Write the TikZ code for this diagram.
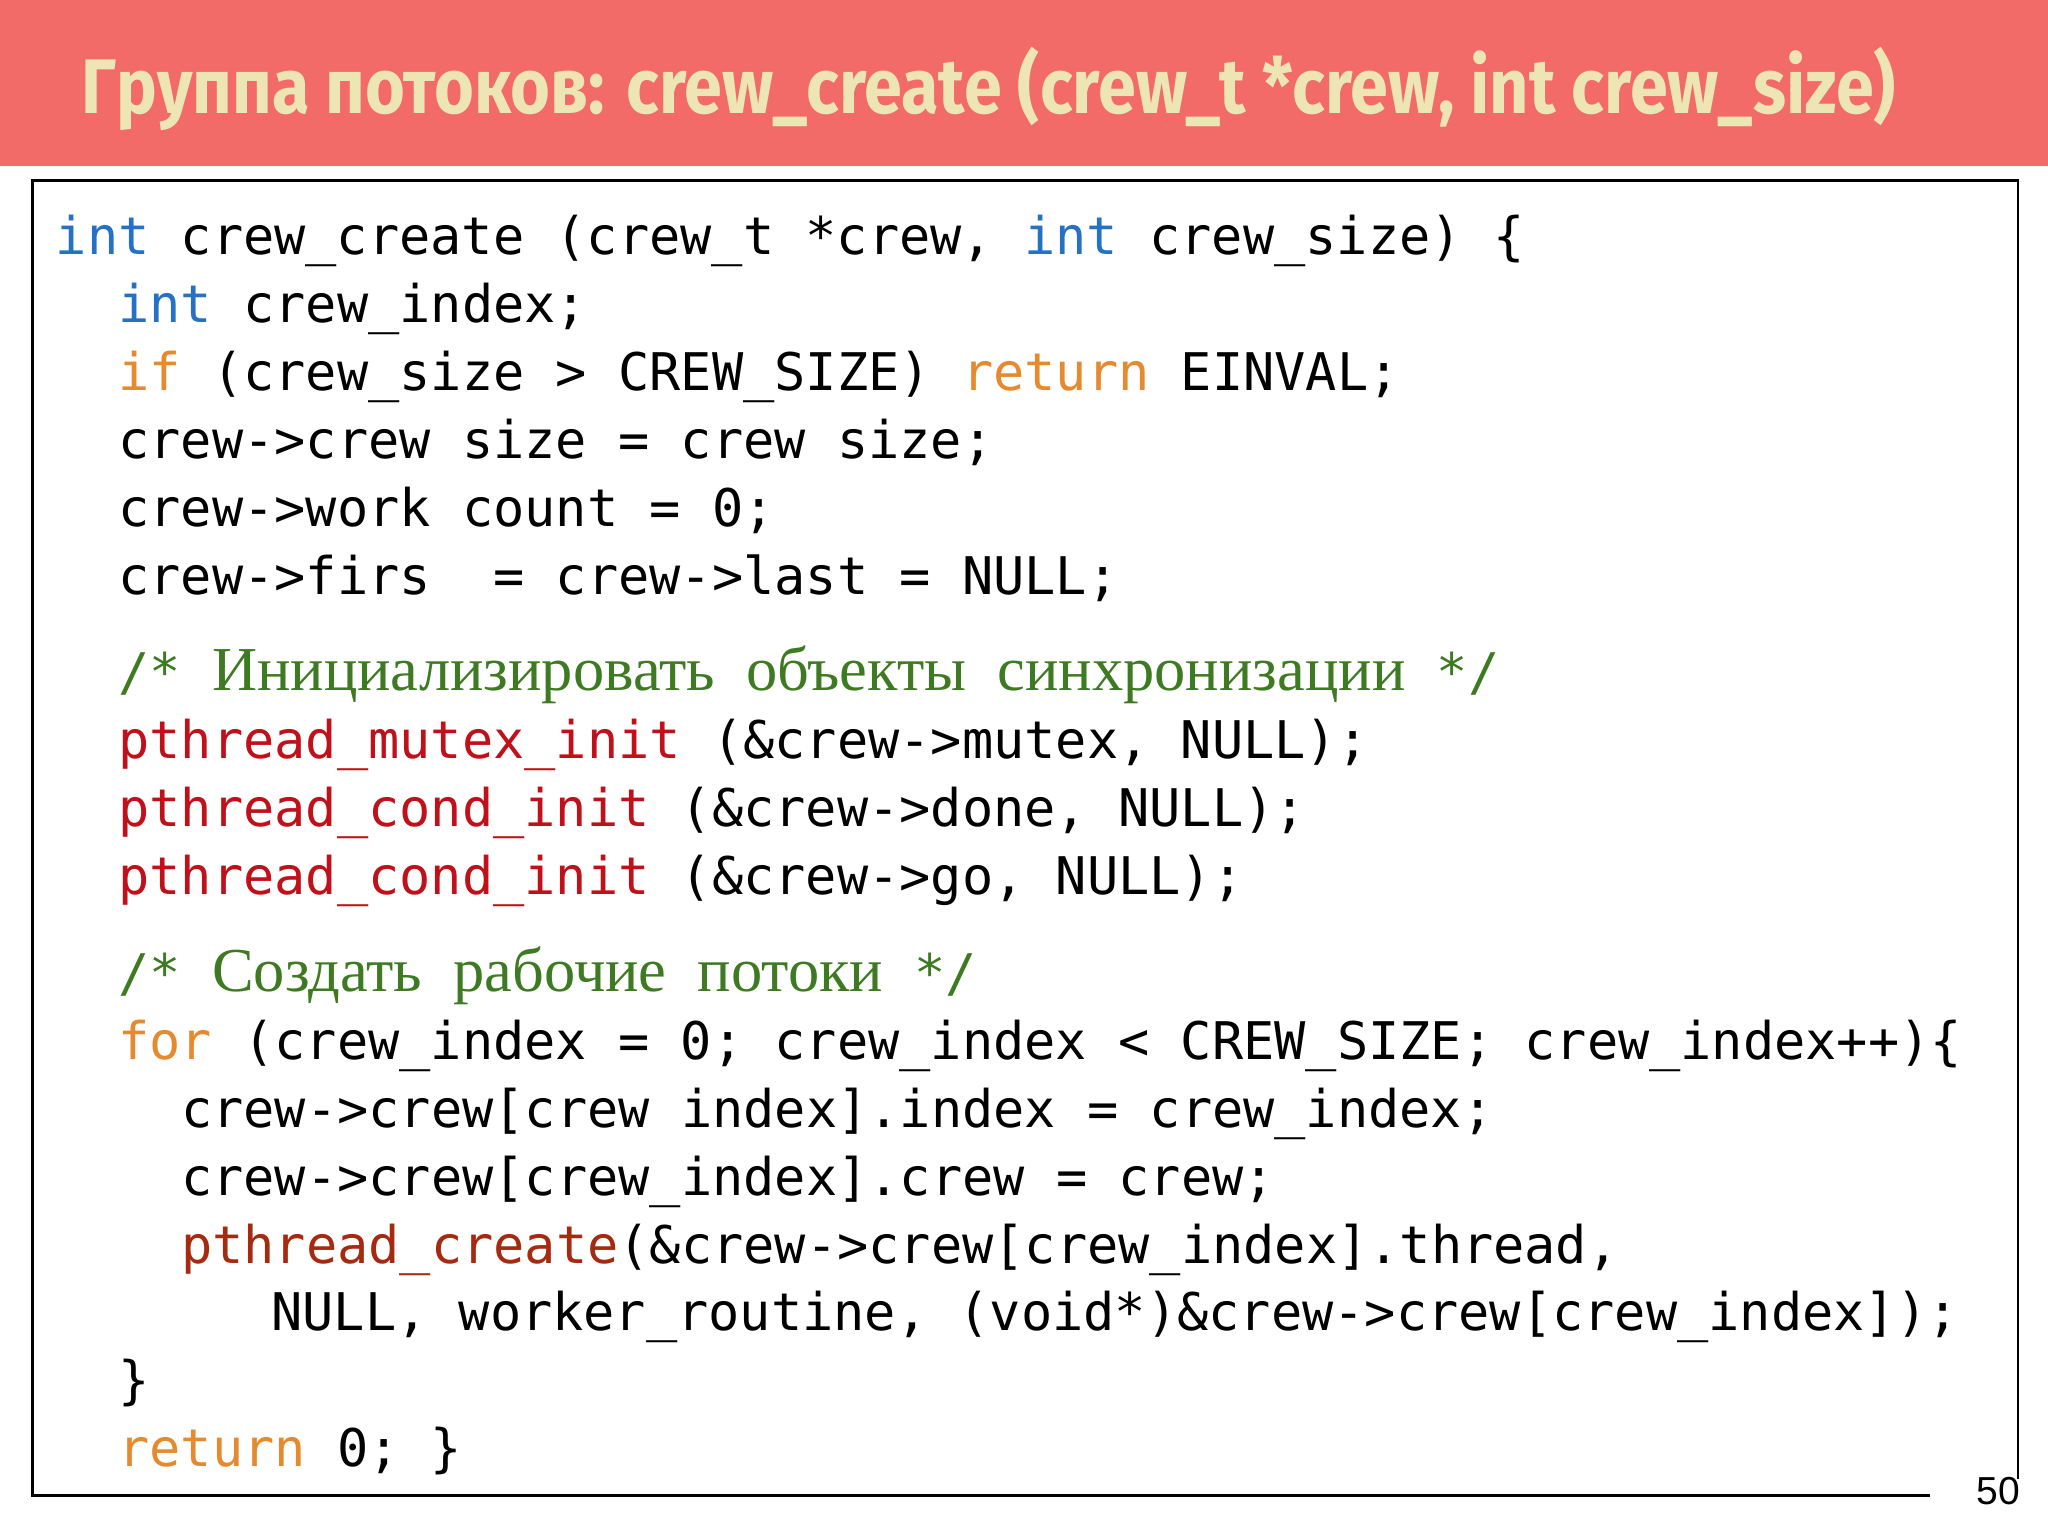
\documentclass[tikz,border=0pt]{standalone}
\usepackage{fontspec}
\usepackage{graphicx}
\setmainfont{Liberation Serif}
\setmonofont{DejaVu Sans Mono}
\newfontfamily\titlefont{Fira Sans}
\newfontfamily\numfont{Liberation Sans}
\definecolor{titlered}{HTML}{F26B68}
\definecolor{titletext}{HTML}{EDE6B4}
\definecolor{kwblue}{HTML}{2572C4}
\definecolor{kworange}{HTML}{E58A2E}
\definecolor{fnred}{HTML}{C0101A}
\definecolor{fndark}{HTML}{A52A10}
\definecolor{cmgreen}{HTML}{3D7A22}
\newcommand{\kb}[1]{\textcolor{kwblue}{#1}}
\newcommand{\ko}[1]{\textcolor{kworange}{#1}}
\newcommand{\fr}[1]{\textcolor{fnred}{#1}}
\newcommand{\fd}[1]{\textcolor{fndark}{#1}}
\newcommand{\cmserif}[1]{{\rmfamily\fontsize{13.6pt}{14pt}\selectfont\textcolor{cmgreen}{#1}}}
\begin{document}
\begin{tikzpicture}[x=0.01cm,y=-0.01cm,
  code/.style={anchor=base west,inner sep=0pt,font=\ttfamily\fontsize{11.3pt}{12pt}\selectfont}]
\useasboundingbox (0,0) rectangle (1568,1176);
\fill[white] (0,0) rectangle (1568,1176);
\fill[titlered] (0,0) rectangle (1568,127);
\node[anchor=west,inner sep=0pt,text=titletext] (title) at (62,68)
  {\resizebox*{13.88cm}{0.64cm}{\titlefont\bfseries Группа потоков: crew\_create (crew\_t *crew, int crew\_size)}};
\draw[black,line width=0.6pt] (1478,1145) -- (25,1145) -- (25,138) -- (1545,138) -- (1545,1132);
\node[anchor=base,inner sep=0pt,font=\numfont\fontsize{8.5pt}{9pt}\selectfont] (num) at (1530,1152) {50};
\def\L{42}\def\Lb{90}\def\Lc{138}\def\Ld{207}
\node[code] (l1) at (\L,195) {\kb{int} crew\_create (crew\_t *crew, \kb{int} crew\_size) \{};
\node[code] (l2) at (\Lb,247) {\kb{int} crew\_index;};
\node[code] (l3) at (\Lb,299) {\ko{if} (crew\_size > CREW\_SIZE) \ko{return} EINVAL;};
\node[code] (l4) at (\Lb,351) {crew->crew size = crew size;};
\node[code] (l5) at (\Lb,403) {crew->work count = 0;};
\node[code] (l6) at (\Lb,455) {crew->firs\ \ = crew->last = NULL;};
\node[code] (l7) at (\Lb,529) {\textcolor{cmgreen}{/*} \cmserif{Инициализировать\ \ объекты\ \ синхронизации} \textcolor{cmgreen}{*/}};
\node[code] (l8) at (\Lb,581) {\fr{pthread\_mutex\_init} (\&crew->mutex, NULL);};
\node[code] (l9) at (\Lb,633) {\fr{pthread\_cond\_init} (\&crew->done, NULL);};
\node[code] (l10) at (\Lb,685) {\fr{pthread\_cond\_init} (\&crew->go, NULL);};
\node[code] (l11) at (\Lb,759) {\textcolor{cmgreen}{/*} \cmserif{Создать\ \ рабочие\ \ потоки} \textcolor{cmgreen}{*/}};
\node[code] (l12) at (\Lb,811) {\ko{for} (crew\_index = 0; crew\_index < CREW\_SIZE; crew\_index++)\{};
\node[code] (l13) at (\Lc,863) {crew->crew[crew index].index = crew\_index;};
\node[code] (l14) at (\Lc,915) {crew->crew[crew\_index].crew = crew;};
\node[code] (l15) at (\Lc,967) {\fd{pthread\_create}(\&crew->crew[crew\_index].thread,};
\node[code] (l16) at (\Ld,1019) {NULL, worker\_routine, (void*)\&crew->crew[crew\_index]);};
\node[code] (l17) at (\Lb,1071) {\}};
\node[code] (l18) at (\Lb,1123) {\ko{return} 0; \}};
\end{tikzpicture}
\end{document}
